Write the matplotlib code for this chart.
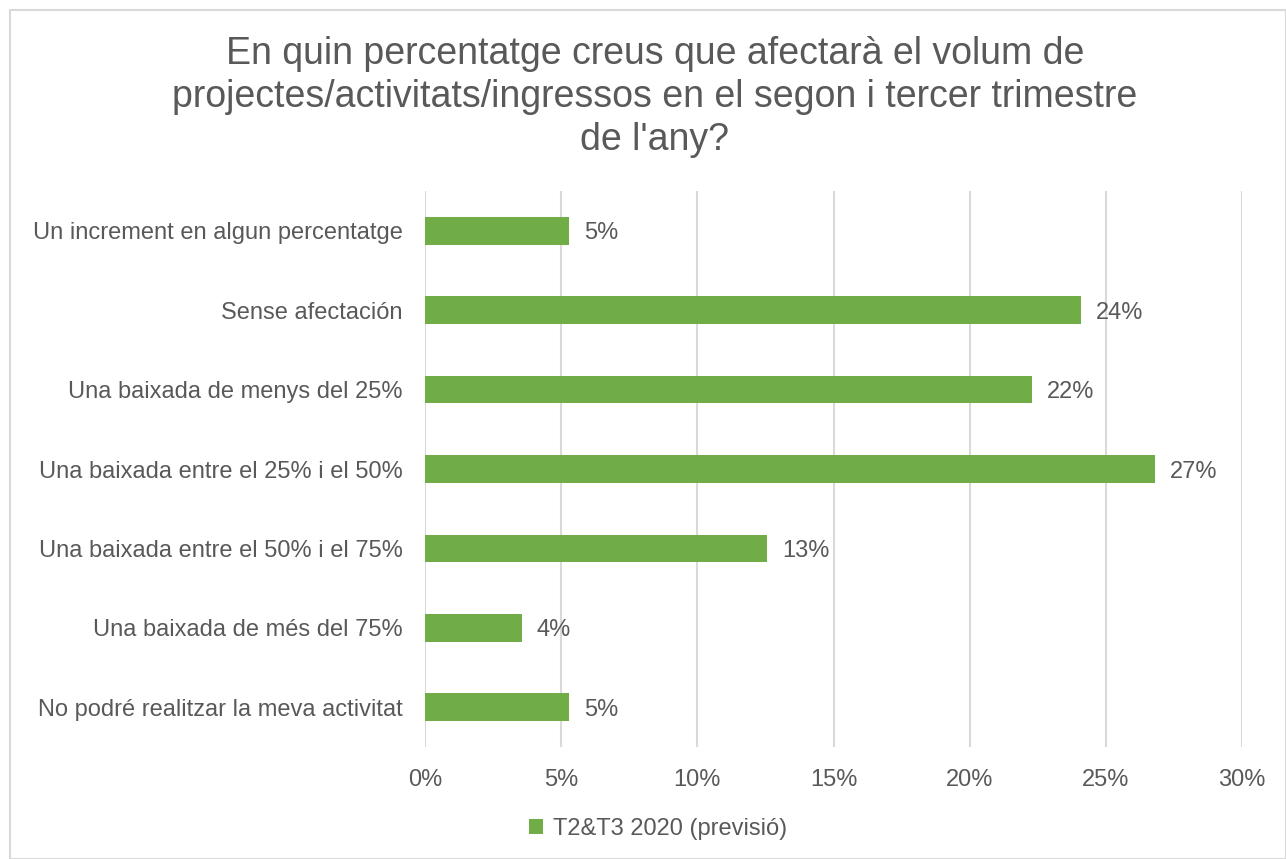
import matplotlib.pyplot as plt
from matplotlib.patches import Rectangle

plt.rcParams.update({
    "font.family": ["Liberation Sans", "DejaVu Sans"],
    "text.color": "#595959",
    "xtick.color": "#595959",
    "ytick.color": "#595959",
})

categories = [
    "Un increment en algun percentatge",
    "Sense afectación",
    "Una baixada de menys del 25%",
    "Una baixada entre el 25% i el 50%",
    "Una baixada entre el 50% i el 75%",
    "Una baixada de més del 75%",
    "No podré realitzar la meva activitat",
]
values = [5.3, 24.1, 22.3, 26.8, 12.55, 3.55, 5.3]
series_name = "T2&T3 2020 (previsió)"
xticks = [0, 5, 10, 15, 20, 25, 30]
title = ("En quin percentatge creus que afectarà el volum de\n"
         "projectes/activitats/ingressos en el segon i tercer trimestre\n"
         "de l'any?")

green = "#70AD47"
text_gray = "#595959"

fig = plt.figure(figsize=(12.86, 8.59), dpi=100)
ax = fig.add_axes([425 / 1286, 1 - 747 / 859, (1242 - 425) / 1286, (747 - 191) / 859])

ypos = list(range(len(categories)))
bars = ax.barh(ypos, values, height=0.35, color=green, label=series_name, zorder=3)
for y, v in zip(ypos, values):
    ax.text(v + 0.55, y, f"{round(v)}%", va="center_baseline", ha="left",
            fontsize=17, color=text_gray)

ax.set_ylim(len(categories) - 0.5, -0.5)
ax.set_xlim(0, 30)
ax.set_yticks(ypos)
ax.set_yticklabels(categories, fontsize=17)
ax.set_xticks(xticks)
ax.set_xticklabels([f"{t}%" for t in xticks], fontsize=17)
ax.tick_params(axis="y", length=0, pad=16)
ax.tick_params(axis="x", length=0, pad=16)
ax.grid(axis="x", color="#D9D9D9", linewidth=1.5, zorder=0)
for s in ax.spines.values():
    s.set_visible(False)

fig.text(655 / 1286, 1 - 97 / 859, title, ha="center", va="center",
         fontsize=27, color=text_gray, linespacing=1.25)

fig.legend(handles=[bars], labels=[series_name], loc="center",
           bbox_to_anchor=(658 / 1286, 1 - 829 / 859), frameon=False,
           fontsize=17, handlelength=0.6, handleheight=0.6, handletextpad=0.4)

fig.patches.append(Rectangle((10 / 1286, 0), 1 - 10 / 1286 - 0.5 / 1286, 1 - 10 / 859,
                             transform=fig.transFigure, fill=False,
                             edgecolor="#D9D9D9", linewidth=1.5))

fig.savefig("out.png", dpi=100)
